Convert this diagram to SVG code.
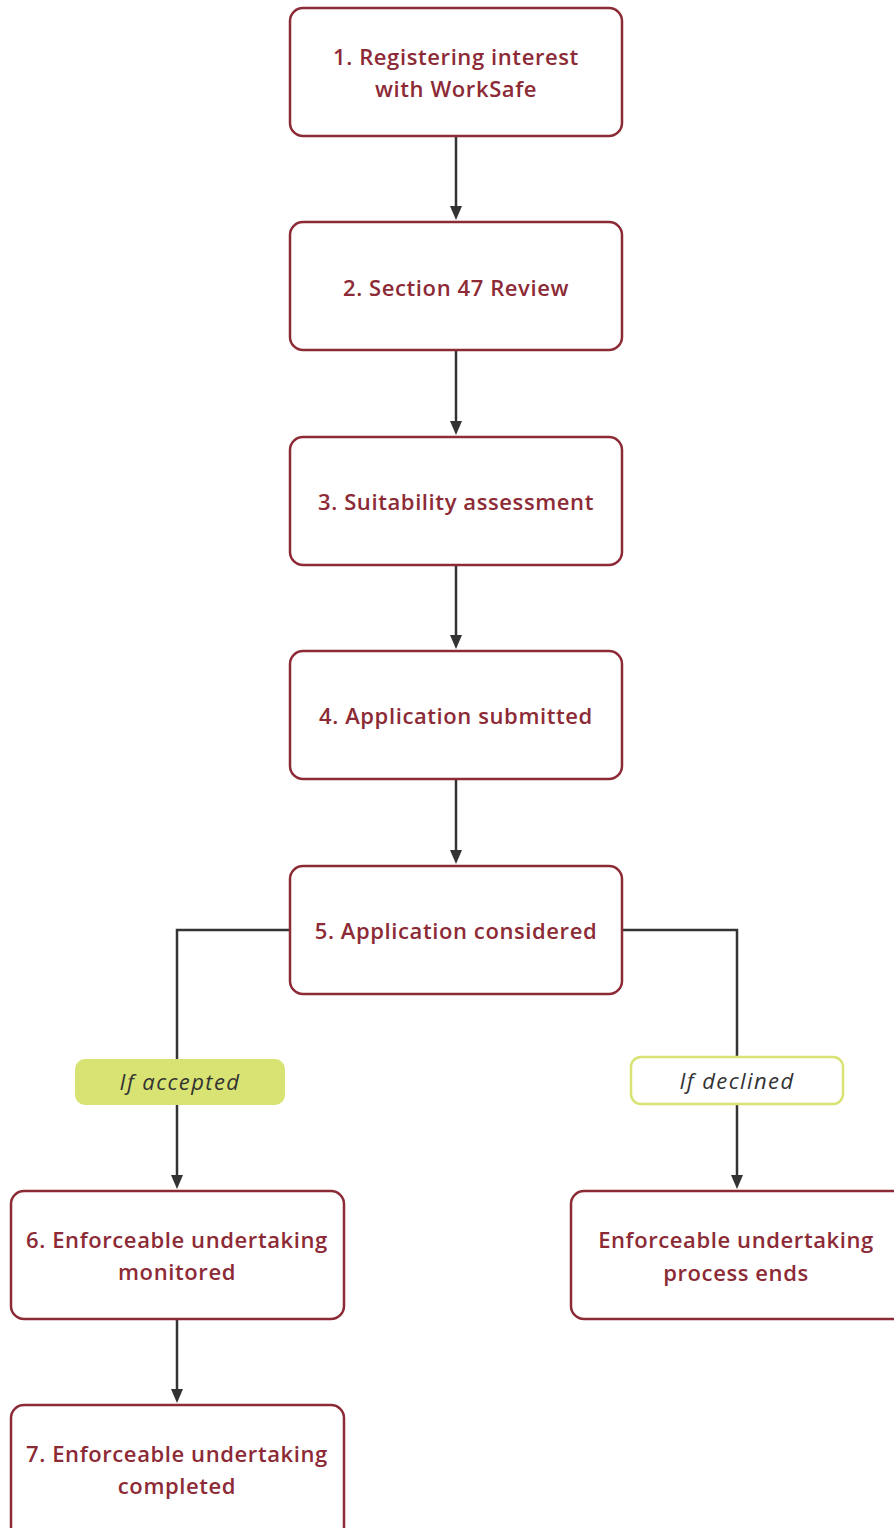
<svg xmlns="http://www.w3.org/2000/svg" width="894" height="1528" viewBox="0 0 894 1528">
<style>
.box{fill:#fff;stroke:#8c2a36;stroke-width:2.5}
.t{font-family:"Open Sans","Liberation Sans",sans-serif;font-weight:600;font-size:22px;letter-spacing:0.6px;fill:#8c2a36;text-anchor:middle}
.l{font-family:"Open Sans","Liberation Sans",sans-serif;font-style:italic;font-size:22px;letter-spacing:1.4px;fill:#333;text-anchor:middle}
.c{fill:none;stroke:#333;stroke-width:2.5}
.a{fill:#333}
</style>
<g id="connectors">
<line class="c" x1="456" y1="137" x2="456" y2="206"/>
<path class="a" d="M450,206 L462,206 L456,220 Z"/>
<line class="c" x1="456" y1="351" x2="456" y2="421"/>
<path class="a" d="M450,421 L462,421 L456,435 Z"/>
<line class="c" x1="456" y1="566" x2="456" y2="635"/>
<path class="a" d="M450,635 L462,635 L456,649 Z"/>
<line class="c" x1="456" y1="780" x2="456" y2="850"/>
<path class="a" d="M450,850 L462,850 L456,864 Z"/>
<polyline class="c" points="290,930 177,930 177,1060"/>
<line class="c" x1="177" y1="1105" x2="177" y2="1175"/>
<path class="a" d="M171,1175 L183,1175 L177,1189 Z"/>
<polyline class="c" points="622,930 737,930 737,1058"/>
<line class="c" x1="737" y1="1104" x2="737" y2="1175"/>
<path class="a" d="M731,1175 L743,1175 L737,1189 Z"/>
<line class="c" x1="177" y1="1320" x2="177" y2="1389"/>
<path class="a" d="M171,1389 L183,1389 L177,1403 Z"/>
</g>
<g id="n1"><rect class="box" x="290" y="8" width="332" height="128" rx="13"/>
<text class="t" x="456" y="65">1. Registering interest</text><text class="t" x="456" y="97">with WorkSafe</text></g>
<g id="n2"><rect class="box" x="290" y="222" width="332" height="128" rx="13"/>
<text class="t" x="456" y="296">2. Section 47 Review</text></g>
<g id="n3"><rect class="box" x="290" y="437" width="332" height="128" rx="13"/>
<text class="t" x="456" y="510">3. Suitability assessment</text></g>
<g id="n4"><rect class="box" x="290" y="651" width="332" height="128" rx="13"/>
<text class="t" x="456" y="724">4. Application submitted</text></g>
<g id="n5"><rect class="box" x="290" y="866" width="332" height="128" rx="13"/>
<text class="t" x="456" y="939">5. Application considered</text></g>
<g id="la"><rect x="75" y="1059" width="210" height="46" rx="10" fill="#d9e373"/>
<text class="l" x="180" y="1090">If accepted</text></g>
<g id="ld"><rect x="631" y="1057" width="212" height="47" rx="10" fill="#fff" stroke="#d9e373" stroke-width="2.5"/>
<text class="l" x="737" y="1089">If declined</text></g>
<g id="n6"><rect class="box" x="11" y="1191" width="333" height="128" rx="13"/>
<text class="t" x="177" y="1248">6. Enforceable undertaking</text><text class="t" x="177" y="1280">monitored</text></g>
<g id="nend"><rect class="box" x="571" y="1191" width="340" height="128" rx="13"/>
<text class="t" x="736" y="1248">Enforceable undertaking</text><text class="t" x="736" y="1281">process ends</text></g>
<g id="n7"><rect class="box" x="11" y="1405" width="333" height="135" rx="13"/>
<text class="t" x="177" y="1462">7. Enforceable undertaking</text><text class="t" x="177" y="1494">completed</text></g>
</svg>
